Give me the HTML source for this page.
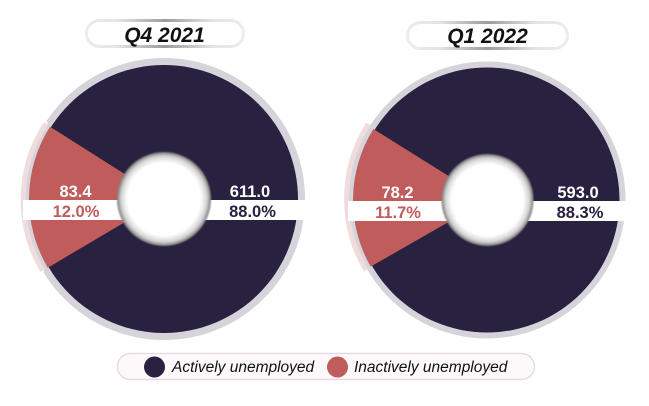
<!DOCTYPE html>
<html><head><meta charset="utf-8"><style>
html,body{margin:0;padding:0;background:#fff;}
svg{display:block;}
text{font-family:"Liberation Sans",sans-serif;}
</style></head><body>
<svg width="649" height="406" viewBox="0 0 649 406" xmlns="http://www.w3.org/2000/svg">
<defs>
<radialGradient id="hole" cx="50%" cy="50%" r="50%">
<stop offset="0" stop-color="#fff"/>
<stop offset="0.78" stop-color="#fff"/>
<stop offset="0.91" stop-color="#d4d4d4"/>
<stop offset="1" stop-color="#7a7a7a"/>
</radialGradient>
<linearGradient id="pill" x1="0" x2="1" y1="0" y2="0">
<stop offset="0" stop-color="#ececee"/>
<stop offset="0.2" stop-color="#e4e4e6"/>
<stop offset="0.5" stop-color="#9c9c9c"/>
<stop offset="0.8" stop-color="#e4e4e6"/>
<stop offset="1" stop-color="#ececee"/>
</linearGradient>
<filter id="blur" x="-20%" y="-20%" width="140%" height="140%"><feGaussianBlur stdDeviation="0.7"/></filter>
</defs>

<!-- Titles -->
<rect x="86.5" y="20.5" width="157" height="26" rx="13" fill="#fff" stroke="url(#pill)" stroke-width="3"/>
<text x="164.5" y="42" text-anchor="middle" font-size="21" font-weight="bold" font-style="italic" fill="#111">Q4 2021</text>
<rect x="407.5" y="22.5" width="160" height="26" rx="13" fill="#fff" stroke="url(#pill)" stroke-width="3"/>
<text x="487.5" y="43" text-anchor="middle" font-size="21" font-weight="bold" font-style="italic" fill="#111">Q1 2022</text>

<!-- Left donut -->
<circle cx="164" cy="199" r="137.5" fill="none" stroke="#d5d4da" stroke-width="7"/>
<circle cx="164" cy="199" r="134" fill="#28213f"/>
<path d="M164 199 L50 126.7 A135 135 0 0 0 47.8 267.7 Z" fill="#c05c5c"/>
<path d="M47.2 121.9 A141 141 0 0 0 43.5 272" fill="none" stroke="#fff" stroke-width="2"/>
<path d="M46 123.5 A139 139 0 0 0 42.5 270.5" fill="none" stroke="#f0dcdd" stroke-width="5"/>
<rect x="23" y="200" width="283" height="20" fill="#fff"/>
<circle cx="164" cy="199" r="47" fill="url(#hole)" filter="url(#blur)"/>
<text x="75.5" y="197" text-anchor="middle" font-size="16.5" font-weight="bold" fill="#fff">83.4</text>
<text x="76" y="217" text-anchor="middle" font-size="16.5" font-weight="bold" fill="#c05c5c">12.0%</text>
<text x="250" y="197" text-anchor="middle" font-size="16.5" font-weight="bold" fill="#fff">611.0</text>
<text x="252.5" y="217" text-anchor="middle" font-size="16.5" font-weight="bold" fill="#28213f">88.0%</text>

<!-- Right donut -->
<circle cx="487" cy="200" r="135.5" fill="none" stroke="#d5d4da" stroke-width="6"/>
<circle cx="487" cy="200" r="132.5" fill="#28213f"/>
<path d="M487 200 L373.4 129 A134 134 0 0 0 370.7 266.6 Z" fill="#c05c5c"/>
<path d="M368.5 124 A139.5 139.5 0 0 0 366 270" fill="none" stroke="#f0dcdd" stroke-width="5"/>
<rect x="348" y="201" width="279" height="20" fill="#fff"/>
<circle cx="487.5" cy="200" r="46" fill="url(#hole)" filter="url(#blur)"/>
<text x="397.5" y="198" text-anchor="middle" font-size="16.5" font-weight="bold" fill="#fff">78.2</text>
<text x="398" y="218" text-anchor="middle" font-size="16.5" font-weight="bold" fill="#c05c5c">11.7%</text>
<text x="578" y="198" text-anchor="middle" font-size="16.5" font-weight="bold" fill="#fff">593.0</text>
<text x="580" y="218" text-anchor="middle" font-size="16.5" font-weight="bold" fill="#28213f">88.3%</text>

<!-- Legend -->
<rect x="117.5" y="353.5" width="417" height="26" rx="13" fill="#fdf9fb" stroke="#e7d9ea" stroke-width="1.5"/>
<circle cx="154.5" cy="367" r="10.5" fill="#28213f"/>
<text x="172" y="372" font-size="15.5" font-style="italic" fill="#111">Actively unemployed</text>
<circle cx="337.5" cy="367" r="10.5" fill="#c05c5c"/>
<text x="354" y="372" font-size="15.5" font-style="italic" fill="#111">Inactively unemployed</text>
</svg>
</body></html>
